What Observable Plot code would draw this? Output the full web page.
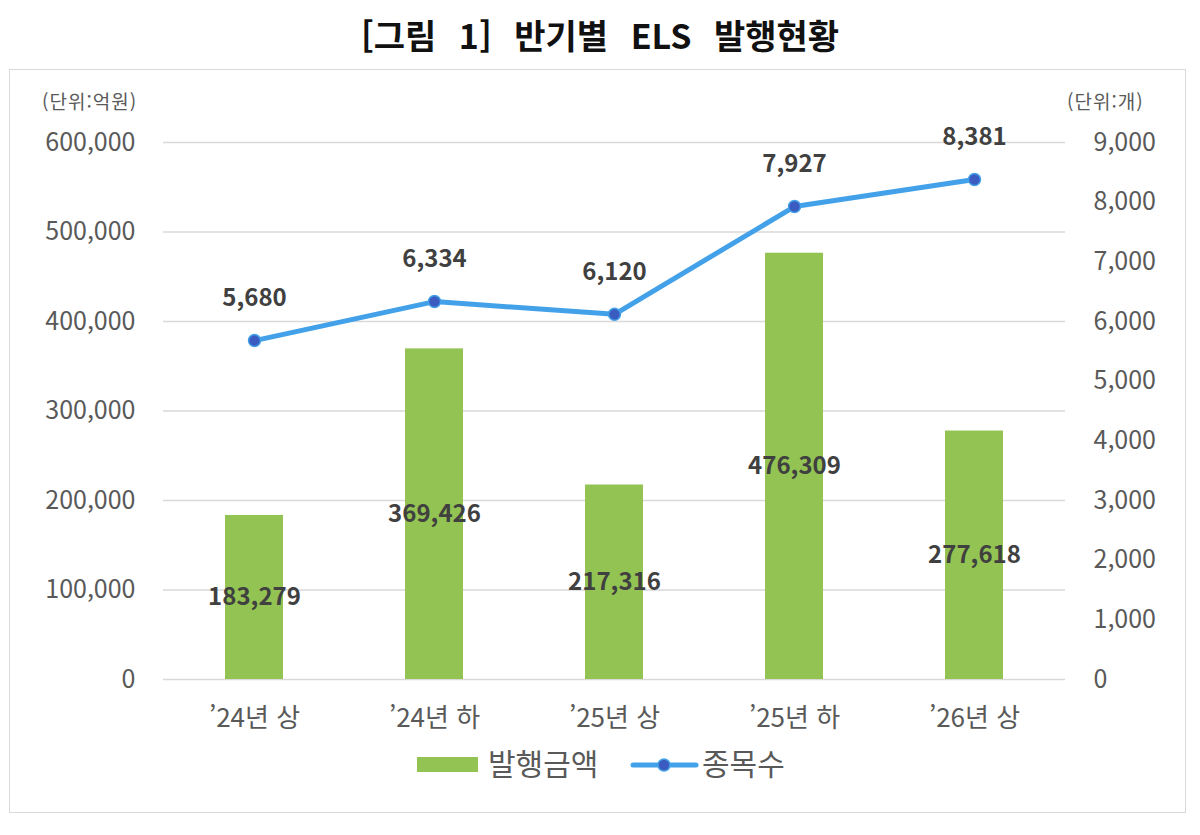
<!DOCTYPE html>
<html lang="ko">
<head>
<meta charset="utf-8">
<script src="https://cdn.jsdelivr.net/npm/d3@7"></script>
<script src="https://cdn.jsdelivr.net/npm/@observablehq/plot@0.6"></script>
<style>
  html, body { margin: 0; padding: 0; background: #ffffff; }
  body { width: 1200px; height: 835px; position: relative; overflow: hidden;
         font-family: "Noto Sans CJK KR", "Noto Sans", sans-serif; }
  #title { position: absolute; left: 0; top: 11px; width: 1200px; text-align: center;
           font-size: 34px; font-weight: bold; color: #111; word-spacing: 13px; line-height: 48px; }
  #box { position: absolute; left: 9px; top: 69px; width: 1177px; height: 744px;
         border: 1.5px solid #d9d9d9; box-sizing: border-box; }
  #chart { position: absolute; left: 0; top: 0; }
  .unit { position: absolute; top: 17px; font-size: 19px; color: #595959; letter-spacing: 1px; }
  #legend { position: absolute; top: 672px; left: 0; width: 100%; height: 44px; }
  .sw-bar { position: absolute; left: 407px; top: 15px; width: 61px; height: 15px; background: #92c353; }
  .lg-text { position: absolute; top: -2px; font-size: 30px; color: #595959; line-height: 44px; }
</style>
</head>
<body>
<div id="title">[그림 1] 반기별 ELS 발행현황</div>
<div id="box">
  <div id="chart"></div>
  <div class="unit" style="left:32px">(단위:억원)</div>
  <div class="unit" style="left:1057px">(단위:개)</div>
  <div id="legend">
    <div class="sw-bar"></div>
    <div class="lg-text" style="left:478px">발행금액</div>
    <svg style="position:absolute;left:620px;top:10px" width="70" height="26">
      <line x1="3" y1="13" x2="66" y2="13" stroke="#42a1e8" stroke-width="5" stroke-linecap="round"></line>
      <circle cx="34" cy="13" r="6" fill="#3a5cc0" stroke="#42a1e8" stroke-width="1.5"></circle>
    </svg>
    <div class="lg-text" style="left:692px">종목수</div>
  </div>
</div>
<script>
// Half-year periods
const periods = ["’24년 상", "’24년 하", "’25년 상", "’25년 하", "’26년 상"];
// Issuance amount (억원)
const amounts = [183279, 369426, 217316, 476309, 277618];
// Number of issues (개)
const counts = [5680, 6334, 6120, 7927, 8381];
// Axis ticks
const leftTicks = [0, 100000, 200000, 300000, 400000, 500000, 600000];
const rightTicks = [0, 1000, 2000, 3000, 4000, 5000, 6000, 7000, 8000, 9000];

const data = periods.map((p, i) => ({period: p, amount: amounts[i], count: counts[i]}));

// The count series shares the left y scale, rescaled so 9,000 meets 600,000
const ratio = 600000 / 9000;
const fmt = d3.format(",");

const chart = Plot.plot({
  width: 1174,
  height: 690,
  marginLeft: 153,
  marginRight: 119,
  marginTop: 72,
  marginBottom: 81,
  style: {fontFamily: "'Noto Sans CJK KR', 'Noto Sans', sans-serif", fontSize: "25px", color: "#595959", background: "transparent", overflow: "visible"},
  x: {domain: periods, paddingInner: 0.68, paddingOuter: 0.34, label: null},
  y: {domain: [0, 600000], label: null},
  marks: [
    Plot.gridY(leftTicks, {stroke: "#d9d9d9", strokeOpacity: 1, strokeWidth: 1.5}),
    Plot.axisY(leftTicks, {anchor: "left", tickSize: 0, tickPadding: 28, tickFormat: fmt, label: null, fontSize: 25}),
    Plot.axisY(rightTicks.map(v => v * ratio), {
      anchor: "right", tickSize: 0, tickPadding: 28, label: null, fontSize: 25,
      tickFormat: v => fmt(Math.round(v / ratio))
    }),
    Plot.axisX({tickSize: 0, tickPadding: 29, label: null, fontSize: 26}),
    Plot.barY(data, {x: "period", y: "amount", fill: "#92c353"}),
    Plot.text(data, {
      x: "period", y: d => d.amount / 2, text: d => fmt(d.amount),
      fontWeight: "bold", fontSize: 24, fill: "#404040"
    }),
    Plot.line(data, {x: "period", y: d => d.count * ratio, stroke: "#42a1e8", strokeWidth: 5}),
    Plot.dot(data, {x: "period", y: d => d.count * ratio, r: 6, fill: "#3a5cc0", stroke: "#42a1e8", strokeWidth: 1.5}),
    Plot.text(data, {
      x: "period", y: d => d.count * ratio, text: d => fmt(d.count),
      dy: -42, fontWeight: "bold", fontSize: 24, fill: "#404040"
    })
  ]
});
document.getElementById("chart").appendChild(chart);
</script>
</body>
</html>
